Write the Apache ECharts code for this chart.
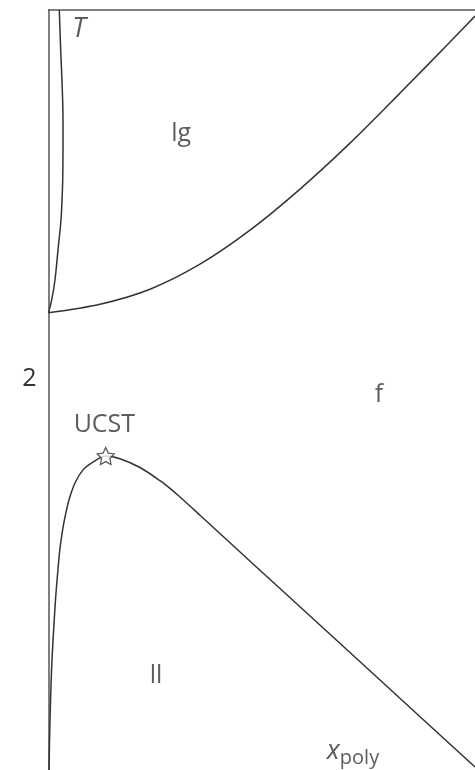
<!DOCTYPE html>
<html>
<head>
<meta charset="utf-8">
<script src="https://cdn.jsdelivr.net/npm/echarts@6/dist/echarts.min.js"></script>
<style>
  html, body { margin: 0; padding: 0; background: #fff; }
  #main { width: 475px; height: 770px; }
</style>
</head>
<body>
<div id="main"></div>
<script>
// 坐标: x = x_poly (0..1), y = T (任意单位)
const yTicks = [0, 2];

// 左上 lg 边界 (近乎竖直)
const lgLeftX = [0, 0.0075, 0.0152, 0.0223, 0.0293, 0.0317, 0.0333, 0.034, 0.034, 0.0277, 0.0253];
const lgLeftT = [2.338, 2.404, 2.506, 2.660, 2.813, 2.916, 3.018, 3.171, 3.325, 3.734, 3.887];

// lg / f 边界
const lgX = [0, 0.1208, 0.2380, 0.3552, 0.4725, 0.5897, 0.7069, 0.8242, 0.9414, 1.0];
const lgT = [2.338, 2.382, 2.459, 2.587, 2.761, 2.971, 3.206, 3.462, 3.723, 3.856];

// ll / f 边界
const llX = [0.0012, 0.0035, 0.0082, 0.0164, 0.0211, 0.0265, 0.0331, 0.0387, 0.0480, 0.0621, 0.0809, 0.1043,
             0.1341, 0.1676, 0.2145, 0.2614, 0.2849, 0.3083, 0.3552, 0.4256, 0.5428, 0.7773, 1.0];
const llT = [0, 0.256, 0.563, 0.870, 0.997, 1.125, 1.228, 1.294, 1.381, 1.468, 1.535, 1.575,
             1.606, 1.592, 1.547, 1.480, 1.440, 1.396, 1.303, 1.162, 0.928, 0.460, 0.015];

// UCST
const ucst = [0.1341, 1.606];

// 文字标注
const labelNames = ['T', 'lg', 'f', 'UCST', 'll', 'xpoly'];
const labelX = [0.0715, 0.311, 0.775, 0.131, 0.252, 0.714];
const labelT = [3.790, 3.253, 1.918, 1.765, 0.481, 0.095];

const zip = (xs, ys) => xs.map((x, i) => [x, ys[i]]);

const ink = '#333';
const font = 'Open Sans';

const lineStyle = { color: ink, width: 1.5 };

const richText = {
  it: { fontStyle: 'italic', fontSize: 27, color: ink, fontFamily: font },
  sub: { fontSize: 20, color: ink, fontFamily: font, padding: [14, 0, 0, 0] },
  n: { fontSize: 25, color: ink, fontFamily: font }
};

function labelFmt(p) {
  const name = p.data.name;
  if (name === 'T') return '{it|T}';
  if (name === 'xpoly') return '{it|x}{sub|poly}';
  return '{n|' + name + '}';
}

var myChart = echarts.init(document.getElementById('main'));
myChart.setOption({
  animation: false,
  grid: { left: 48.5, right: 0, top: 10, bottom: 0 },
  xAxis: {
    type: 'value',
    position: 'top',
    min: 0,
    max: 1,
    axisLine: { show: true, onZero: false, lineStyle: { color: '#555', width: 1.5 } },
    axisTick: { show: false },
    axisLabel: { show: false },
    splitLine: { show: false }
  },
  yAxis: {
    type: 'value',
    min: 0,
    max: 3.887,
    interval: 2,
    axisLine: { show: true, onZero: false, lineStyle: { color: '#555', width: 1.5 } },
    axisTick: { show: false },
    splitLine: { show: false },
    axisLabel: {
      margin: 12,
      fontSize: 25,
      color: ink,
      fontFamily: font,
      formatter: v => (yTicks.indexOf(v) > 0 ? String(v) : '')
    }
  },
  series: [
    {
      type: 'line',
      data: zip(lgLeftX, lgLeftT),
      smooth: 0.3,
      showSymbol: false,
      lineStyle: lineStyle
    },
    {
      type: 'line',
      data: zip(lgX, lgT),
      smooth: 0.3,
      showSymbol: false,
      lineStyle: lineStyle
    },
    {
      type: 'line',
      data: zip(llX, llT),
      smooth: 0.3,
      showSymbol: false,
      lineStyle: lineStyle
    },
    {
      type: 'scatter',
      data: [ucst],
      symbol: 'path://M0,-10 L2.9,-4 L9.5,-3.1 L4.7,1.5 L5.9,8.1 L0,5 L-5.9,8.1 L-4.7,1.5 L-9.5,-3.1 L-2.9,-4 Z',
      symbolSize: 17,
      itemStyle: { color: '#fff', borderColor: ink, borderWidth: 1.3 },
      z: 5
    },
    {
      type: 'scatter',
      symbolSize: 0,
      data: labelNames.map((n, i) => ({ name: n, value: [labelX[i], labelT[i]] })),
      label: {
        show: true,
        position: 'inside',
        formatter: labelFmt,
        rich: richText
      }
    }
  ]
});
</script>
</body>
</html>
